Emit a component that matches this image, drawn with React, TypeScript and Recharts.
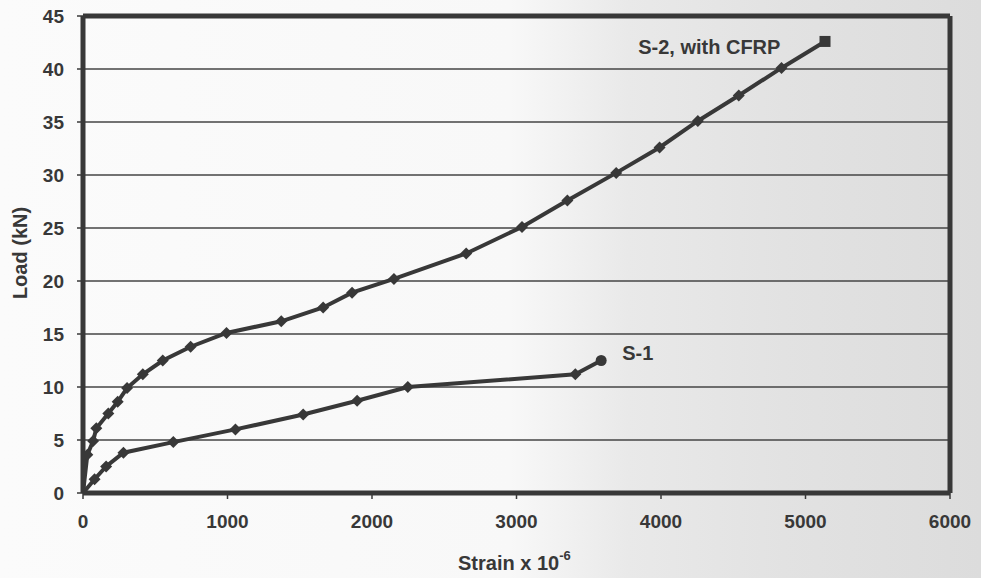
import React from 'react';
import { LineChart, Line, XAxis, YAxis, CartesianGrid, ReferenceLine, ReferenceDot } from 'recharts';

// S-2, with CFRP
const s2Strain = [0, 30, 70, 92, 175, 240, 305, 414, 552, 745, 993, 1372, 1662, 1862, 2152, 2652, 3038, 3352, 3690, 3990, 4255, 4538, 4834, 5135];
const s2Load = [0, 3.6, 4.9, 6.1, 7.5, 8.6, 9.9, 11.2, 12.5, 13.8, 15.1, 16.2, 17.5, 18.9, 20.2, 22.6, 25.1, 27.6, 30.2, 32.6, 35.1, 37.5, 40.1, 42.6];
// S-1
const s1Strain = [0, 80, 160, 280, 625, 1055, 1524, 1897, 2248, 3407, 3586];
const s1Load = [0, 1.3, 2.5, 3.8, 4.8, 6.0, 7.4, 8.7, 10.0, 11.2, 12.5];

const xTicks = [0, 1000, 2000, 3000, 4000, 5000, 6000];
const yTicks = [0, 5, 10, 15, 20, 25, 30, 35, 40, 45];

const s2Data = s2Strain.map((x, i) => ({ x, y: s2Load[i] }));
const s1Data = s1Strain.map((x, i) => ({ x, y: s1Load[i] }));

const INK = '#383838';
const FONT = '"Liberation Sans", Arial, sans-serif';

const makeDot = (lastShape: 'square' | 'circle', count: number) => (p: any) => {
  const { cx, cy, index } = p;
  const key = `d-${lastShape}-${index}`;
  if (cx == null || cy == null) return <g key={key} />;
  if (index === count - 1) {
    if (lastShape === 'square') {
      return <rect key={key} x={cx - 5.5} y={cy - 5.5} width={11} height={11} fill={INK} />;
    }
    return <circle key={key} cx={cx} cy={cy} r={5.5} fill={INK} />;
  }
  const s = 6;
  return (
    <path key={key} d={`M${cx},${cy - s} L${cx + s},${cy} L${cx},${cy + s} L${cx - s},${cy} Z`} fill={INK} />
  );
};

const textLabel = (value: string) => (props: any) => {
  const vb = props.viewBox || {};
  return (
    <text x={vb.x} y={vb.y} fill={INK} fontFamily={FONT} fontWeight="bold" fontSize={20} textAnchor="start" dominantBaseline="central">
      {value}
    </text>
  );
};

export default function App() {
  return (
    <div
      style={{
        position: 'absolute',
        left: 0,
        top: 0,
        width: 981,
        height: 578,
        background: 'linear-gradient(to right, #fbfbfb 0%, #f8f8f8 52%, #e9e9e9 64%, #e2e2e2 80%, #dcdcdc 100%)',
      }}
    >
      <LineChart width={981} height={578} margin={{ top: 16, right: 31, bottom: 35, left: 0 }}>
        <CartesianGrid vertical={false} stroke="#444" strokeWidth={1.5} />
        <XAxis
          dataKey="x"
          type="number"
          domain={[0, 6000]}
          ticks={xTicks}
          height={50}
          axisLine={{ stroke: INK, strokeWidth: 5 }}
          tickLine={{ stroke: INK, strokeWidth: 1.5 }}
          tickSize={6}
          tickMargin={16}
          tick={{ fill: INK, fontFamily: FONT, fontWeight: 'bold', fontSize: 19 }}
          allowDataOverflow
        />
        <YAxis
          type="number"
          domain={[0, 45]}
          ticks={yTicks}
          width={83}
          axisLine={{ stroke: INK, strokeWidth: 5 }}
          tickLine={{ stroke: INK, strokeWidth: 1.5 }}
          tickSize={6}
          tickMargin={13}
          tick={{ fill: INK, fontFamily: FONT, fontWeight: 'bold', fontSize: 19 }}
          allowDataOverflow
        />
        <ReferenceLine y={45} stroke={INK} strokeWidth={5} />
        <ReferenceLine x={6000} stroke={INK} strokeWidth={5} />
        <Line
          data={s2Data}
          dataKey="y"
          stroke={INK}
          strokeWidth={4}
          dot={makeDot('square', s2Data.length)}
          isAnimationActive={false}
          name="S-2, with CFRP"
        />
        <Line
          data={s1Data}
          dataKey="y"
          stroke={INK}
          strokeWidth={4}
          dot={makeDot('circle', s1Data.length)}
          isAnimationActive={false}
          name="S-1"
        />
        <ReferenceDot x={3842} y={42.1} r={0} stroke="none" fill="none" label={textLabel('S-2, with CFRP')} />
        <ReferenceDot x={3732} y={13.2} r={0} stroke="none" fill="none" label={textLabel('S-1')} />
      </LineChart>
      <svg width={981} height={578} style={{ position: 'absolute', left: 0, top: 0, pointerEvents: 'none' }}>
        <text
          x={20}
          y={253}
          transform="rotate(-90 20 253)"
          textAnchor="middle"
          dominantBaseline="central"
          fill={INK}
          fontFamily={FONT}
          fontWeight="bold"
          fontSize={20}
        >
          Load (kN)
        </text>
        <text x={458} y={563} textAnchor="start" dominantBaseline="central" fill={INK} fontFamily={FONT} fontWeight="bold" fontSize={20}>
          Strain x 10
          <tspan dy={-8} fontSize={13}>-6</tspan>
        </text>
      </svg>
    </div>
  );
}
